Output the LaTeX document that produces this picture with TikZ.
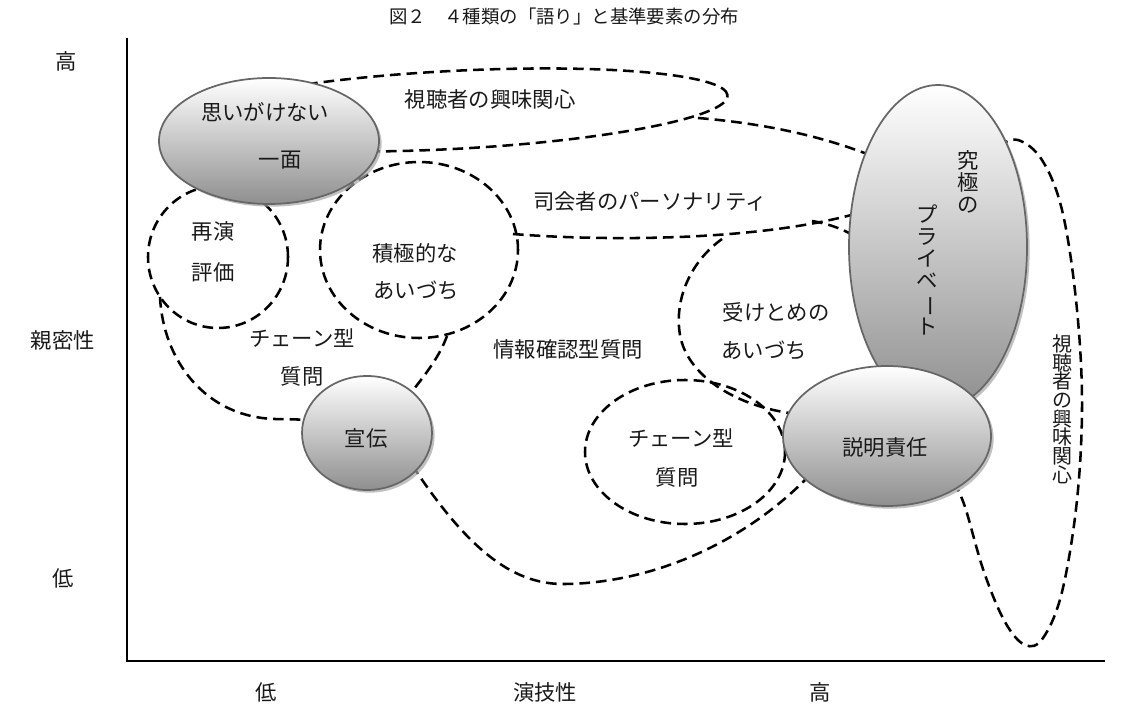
\documentclass[tikz,border=0pt]{standalone}
\usepackage{fontspec}
\usepackage{graphicx}
\newfontfamily\jp{Noto Sans CJK JP}
\usetikzlibrary{shapes.geometric,shadows}
\begin{document}
\begin{tikzpicture}[x=0.75pt,y=-0.75pt,
  every node/.style={font=\jp\fontsize{16}{16}\selectfont, inner sep=0pt, text=black!90},
  dsh/.style={line width=1.9pt, dash pattern=on 8pt off 4.5pt, black},
  axis/.style={line width=1.6pt, black},
  gell/.style 2 args={ellipse, draw=black!60, line width=1.3pt, top color=white, bottom color=black!44,
    minimum width=#1*1.5pt, minimum height=#2*1.5pt,
    drop shadow={shadow xshift=2pt, shadow yshift=-2pt, fill=black!35, opacity=0.7}},
  vcol/.style={align=center, font=\jp\fontsize{16}{16.5}\selectfont},
]
\useasboundingbox (0,0) rectangle (1128,709);

% axes
\coordinate (ytop) at (127,38);
\coordinate (orig) at (127,661);
\coordinate (xend) at (1105,661);
\draw[axis] (ytop) -- (orig) -- (xend);

% dashed regions
\draw[dsh, rotate around={3:(452,110)}] (452,110) ellipse [x radius=207pt, y radius=29.25pt];
\draw[dsh] (698,118) .. controls (770,124) and (830,138) .. (882,160);
\draw[dsh] (513,234) .. controls (600,241) and (760,242) .. (862,212);
\draw[dsh] (218,257) ellipse [x radius=52.5pt, y radius=53.25pt];
\draw[dsh] (419,250) ellipse [x radius=74.25pt, y radius=66pt];
\draw[dsh] (160,297) .. controls (163,360) and (205,417) .. (275,419) -- (320,420);
\draw[dsh] (447,336) .. controls (440,355) and (428,372) .. (405,400);
\draw[dsh] (722,239) .. controls (690,262) and (674,300) .. (680,335) .. controls (687,375) and (735,407) .. (797,414);
\draw[dsh] (812,221) .. controls (830,224) and (845,230) .. (858,238);
\draw[dsh] (685,452) ellipse [x radius=75pt, y radius=54pt];
\draw[dsh] (412,465) .. controls (465,545) and (510,585) .. (565,584) .. controls (650,583) and (740,545) .. (805,480);
\draw[dsh] plot[smooth, tension=0.6] coordinates {(998,146) (1018,140) (1042,160) (1062,210) (1076,300) (1082,400) (1077,500) (1062,592) (1043,638) (1025,645) (1005,622) (984,572) (966,510) (958,490)};

% grey ellipses
\node[gell={110}{63}] (g1) at (269,141) {};
\node[gell={89}{162}] (g2) at (938,247) {};
\node[gell={65}{57}] (g3) at (367,433) {};
\node[gell={104}{70}] (g4) at (887,436) {};

% texts
\node (title) at (564,17) {\fontsize{13.8}{13.8}\selectfont 図２　４種類の「語り」と基準要素の分布};
\node (t1) at (265,112) {思いがけない};
\node (t2) at (280,160) {一面};
\node (t3) at (490,99) {視聴者の興味関心};
\node (t4) at (650,201) {司会者のパーソナリティ};
\node (t5) at (213,231) {再演};
\node (t6) at (213,272) {評価};
\node (t7) at (415,253) {積極的な};
\node (t8) at (416,290) {あいづち};
\node (t9) at (302,338) {チェーン型};
\node (t10) at (302,376) {質問};
\node (t11) at (568,349) {情報確認型質問};
\node (t12) at (776,312) {受けとめの};
\node (t13) at (764,350) {あいづち};
\node (t14) at (366,438) {宣伝};
\node (t15) at (681,438) {チェーン型};
\node (t16) at (677,477) {質問};
\node (t17) at (885,447) {説明責任};
\node[vcol] (t18) at (968,182) {究\\極\\の};
\node[vcol] (t19) at (927,270) {プ\\ラ\\イ\\ベ\\\rotatebox[origin=c]{-90}{ー}\\ト};
\node[vcol, font=\jp\fontsize{15}{14}\selectfont] (t20) at (1062,409) {視\\聴\\者\\の\\興\\味\\関\\心};

% axis labels
\node (yhi) at (66,61) {高};
\node (ylab) at (63,340) {親密性};
\node (ylo) at (63,578) {低};
\node (xlo) at (266,692) {低};
\node (xlab) at (545,692) {演技性};
\node (xhi) at (820,692) {高};
\end{tikzpicture}
\end{document}
